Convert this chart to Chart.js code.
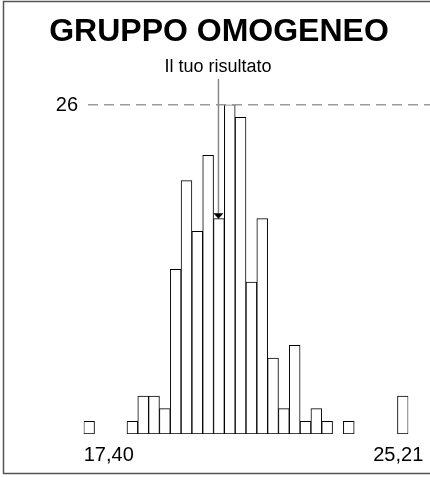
<!DOCTYPE html>
<html>
<head>
<meta charset="utf-8">
<script src="https://cdn.jsdelivr.net/npm/chart.js@4/dist/chart.umd.min.js"></script>
<style>
  html, body { margin: 0; padding: 0; background: #fff; }
  #wrap { width: 430px; height: 477px; position: relative; }
</style>
</head>
<body>
<div id="wrap"><canvas id="c"></canvas></div>
<script>
// histogram bins (30 classes between min and max)
const bins = Array.from({ length: 30 }, (_, i) => "b" + i);
const counts = [1, 0, 0, 0, 1, 3, 3, 2, 13, 20, 16, 22, 17, 26, 25, 12, 17, 6, 2, 7, 1, 2, 1, 0, 1, 0, 0, 0, 0, 3];
const tickLabels = ["17,40", "25,21"];
const refValue = 26;
const resultBin = 12;
const titleText = "GRUPPO OMOGENEO";
const resultText = "Il tuo risultato";

const FONT = "'Liberation Sans', Arial, sans-serif";

const decor = {
  id: "decor",
  afterDraw(chart) {
    const { ctx, scales: { x, y } } = chart;
    const W = chart.width;
    ctx.save();

    // frame
    ctx.strokeStyle = "#555";
    ctx.lineWidth = 1.5;
    ctx.strokeRect(3.5, 1.5, W + 10, 472);

    // title
    ctx.fillStyle = "#000";
    ctx.textAlign = "center";
    ctx.textBaseline = "alphabetic";
    ctx.font = "bold 32px " + FONT;
    ctx.fillText(titleText, 219, 41);

    // reference line
    const yRef = y.getPixelForValue(refValue);
    ctx.strokeStyle = "#999";
    ctx.lineWidth = 1.5;
    ctx.setLineDash([10, 6]);
    ctx.beginPath();
    ctx.moveTo(88, yRef);
    ctx.lineTo(W, yRef);
    ctx.stroke();
    ctx.setLineDash([]);
    ctx.font = "20px " + FONT;
    ctx.textAlign = "right";
    ctx.textBaseline = "middle";
    ctx.fillText(String(refValue), 78, yRef + 1);

    // result marker
    const xr = x.getPixelForValue(resultBin) - 0.5;
    const yTop = y.getPixelForValue(counts[resultBin]);
    ctx.strokeStyle = "#888";
    ctx.lineWidth = 1.5;
    ctx.beginPath();
    ctx.moveTo(xr, 79);
    ctx.lineTo(xr, yTop - 5);
    ctx.stroke();
    ctx.fillStyle = "#000";
    ctx.beginPath();
    ctx.moveTo(xr - 5, yTop - 5.5);
    ctx.lineTo(xr + 5, yTop - 5.5);
    ctx.lineTo(xr, yTop);
    ctx.closePath();
    ctx.fill();
    ctx.font = "18px " + FONT;
    ctx.textAlign = "center";
    ctx.textBaseline = "alphabetic";
    ctx.fillText(resultText, 218, 72);

    // min / max labels
    const half = (x.getPixelForValue(1) - x.getPixelForValue(0)) / 2;
    ctx.font = "20px " + FONT;
    ctx.textBaseline = "middle";
    ctx.textAlign = "left";
    ctx.fillText(tickLabels[0], x.getPixelForValue(0) - half, 455);
    ctx.textAlign = "right";
    ctx.fillText(tickLabels[1], x.getPixelForValue(bins.length - 1) + half + 15, 455);

    ctx.restore();
  }
};

new Chart(document.getElementById("c"), {
  type: "bar",
  data: {
    labels: bins,
    datasets: [{
      data: counts,
      backgroundColor: "#fff",
      borderColor: "#000",
      borderWidth: 1,
      borderSkipped: false,
      barPercentage: 1,
      categoryPercentage: 1,
    }],
  },
  options: {
    responsive: true,
    maintainAspectRatio: false,
    animation: false,
    layout: { padding: { top: 104.7, left: 83.7, right: 21.7, bottom: 43 } },
    plugins: { legend: { display: false }, tooltip: { enabled: false } },
    scales: {
      x: { display: false, offset: true },
      y: { display: false, min: 0, max: 26 },
    },
  },
  plugins: [decor],
});
</script>
</body>
</html>
